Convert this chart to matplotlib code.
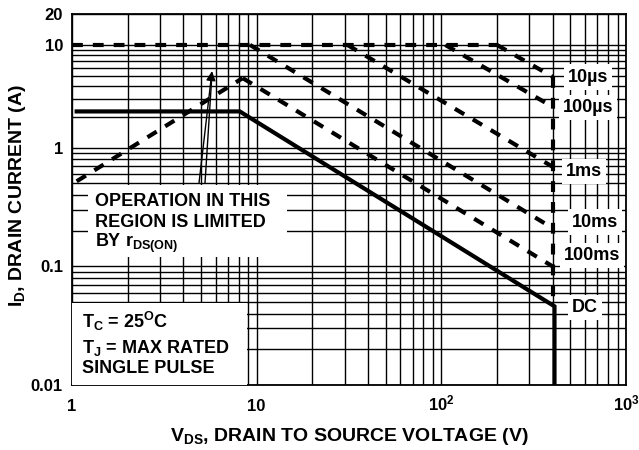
import numpy as np
import matplotlib
matplotlib.use('Agg')
import matplotlib.pyplot as plt
from matplotlib.patches import Rectangle
from matplotlib.ticker import NullFormatter

plt.rcParams['font.family'] = ['Liberation Sans', 'DejaVu Sans']
plt.rcParams['font.weight'] = 'bold'
plt.rcParams['axes.labelweight'] = 'bold'
plt.rcParams['mathtext.fontset'] = 'custom'
plt.rcParams['mathtext.rm'] = 'Liberation Sans:bold'
plt.rcParams['mathtext.it'] = 'Liberation Sans:bold'
plt.rcParams['mathtext.bf'] = 'Liberation Sans:bold'

# safe operating area
v_top = [1, 200]
i_top = [10, 10]
v_rds = [1.06, 8.4]
i_rds = [0.52, 4.75]
v_10us = [200, 400]
i_10us = [10, 4.9]
v_100us = [105, 400]
i_100us = [10, 2.5]
v_1ms = [31, 400]
i_1ms = [10, 0.69]
v_10ms = [9.2, 400]
i_10ms = [10, 0.21]
v_100ms = [8.4, 400]
i_100ms = [4.75, 0.1]
v_bv = [400, 400]
i_bv = [4.9, 0.046]
v_dc = [1.06, 8.1, 410, 410]
i_dc = [2.25, 2.25, 0.046, 0.01]

x_ticks = [1, 10, 100, 1000]
x_labels = ['1', '10', '$10^2$', '$10^3$']
y_ticks = [0.01, 0.1, 1, 10, 20]
y_labels = ['0.01', '0.1', '1', '10', '20']

# the printed chart squeezes the decades above 1 A a little
K = 0.865


def fwd(y):
    with np.errstate(divide='ignore', invalid='ignore'):
        l = np.log10(np.asarray(y, dtype=float))
    return np.where(l > 0, l * K, l)


def inv(t):
    t = np.asarray(t, dtype=float)
    return np.where(t > 0, 10 ** (t / K), 10 ** t)


fig = plt.figure(figsize=(6.39, 4.5), dpi=100)
ax = fig.add_axes([72 / 639, 65 / 450, 554 / 639, 371 / 450])
ax.set_xscale('log')
ax.set_yscale('function', functions=(fwd, inv))
ax.set_xlim(1, 1000)
ax.set_ylim(0.01, 20)

ax.set_xticks(x_ticks, x_labels, fontsize=12, fontweight='bold', va='baseline')
ax.set_xticks([m * 10 ** e for e in range(3) for m in range(2, 10)], minor=True)
ax.set_yticks(y_ticks, y_labels, fontsize=12, fontweight='bold')
ax.set_yticks([m * 10.0 ** e for e in (-2, -1, 0) for m in range(2, 10)], minor=True)
ax.xaxis.set_minor_formatter(NullFormatter())
ax.yaxis.set_minor_formatter(NullFormatter())
ax.tick_params(which='both', length=0)
ax.tick_params(axis='x', pad=18.5)
ax.tick_params(axis='y', pad=6.5)
ax.grid(which='both', color='black', lw=1.0)
for s in ax.spines.values():
    s.set_linewidth(1.3)

dash = dict(color='black', lw=3.0, dashes=(2.6, 2.4))
ax.plot(v_top, i_top, **dash)
ax.plot(v_rds, i_rds, **dash)
ax.plot(v_10us, i_10us, **dash)
ax.plot(v_100us, i_100us, **dash)
ax.plot(v_1ms, i_1ms, **dash)
ax.plot(v_10ms, i_10ms, **dash)
ax.plot(v_100ms, i_100ms, **dash)
ax.plot(v_bv, i_bv, **dash)
ax.plot(v_dc, i_dc, color='black', lw=3.0, solid_joinstyle='miter')

# white boxes for the notes
ax.add_patch(Rectangle((0.029, 0.345), 0.359, 0.194, transform=ax.transAxes,
                       facecolor='white', edgecolor='none', zorder=2.6))
ax.add_patch(Rectangle((0.0, 0.0), 0.316, 0.221, transform=ax.transAxes,
                       facecolor='white', edgecolor='none', zorder=2.6))

note = dict(transform=ax.transAxes, fontsize=13, fontweight='bold',
            va='baseline', ha='left', zorder=4)
ax.text(0.0415, 0.4825, 'OPERATION IN THIS', **note)
ax.text(0.0415, 0.426, 'REGION IS LIMITED', **note)
ax.text(0.0415, 0.372, r'BY r$_\mathrm{DS(ON)}$', **note)
ax.text(0.018, 0.1536, r'T$_\mathrm{C}$ = 25$^\mathrm{O}$C', **note)
ax.text(0.018, 0.0863, r'T$_\mathrm{J}$ = MAX RATED', **note)
ax.text(0.018, 0.0323, 'SINGLE PULSE', **note)

ax.annotate('', xy=(5.73, 5.56), xytext=(4.87, 0.5), zorder=4,
            arrowprops=dict(arrowstyle='-|>', color='black', lw=1.0,
                            mutation_scale=14, shrinkA=0, shrinkB=0))
ax.annotate('', xy=(5.73, 5.3), xytext=(5.25, 0.5), zorder=4,
            arrowprops=dict(arrowstyle='-', color='black', lw=1.0,
                            shrinkA=0, shrinkB=0))

box = dict(facecolor='white', edgecolor='none', pad=3)
lab = dict(fontsize=13, fontweight='bold', ha='center', va='center',
           bbox=box, zorder=5)
ax.text(622, 4.86, '10µs', **lab)
ax.text(622, 2.47, '100µs', **lab)
ax.text(592, 0.626, '1ms', **lab)
ax.text(679, 0.236, '10ms', **lab)
ax.text(654, 0.124, '100ms', **lab)
ax.text(599, 0.045, 'DC', **lab)

ax.set_xlabel(r'V$_\mathrm{DS}$, DRAIN TO SOURCE VOLTAGE (V)',
              fontsize=14, fontweight='bold')
ax.xaxis.set_label_coords(0.5, -0.11)
ax.set_ylabel(r'I$_\mathrm{D}$, DRAIN CURRENT (A)', fontsize=14, fontweight='bold')
ax.yaxis.set_label_coords(-0.08, 0.51)

fig.savefig('out.png', dpi=100)
